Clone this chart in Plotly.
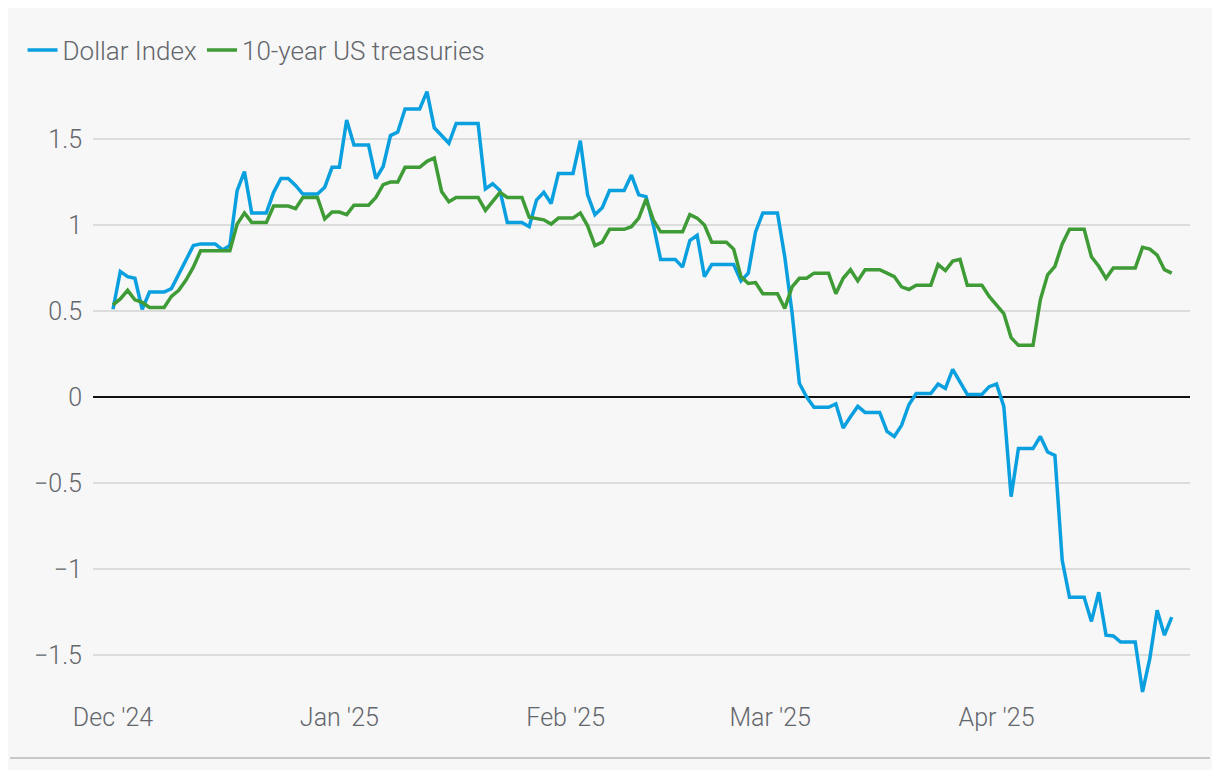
import pandas as pd
import plotly.graph_objects as go

start_date = "2024-12-01"

dollar_index = [
    0.51, 0.73, 0.70, 0.69, 0.51, 0.61, 0.61, 0.61, 0.63, 0.71,
    0.80, 0.88, 0.89, 0.89, 0.89, 0.855, 0.88, 1.20, 1.31, 1.07,
    1.07, 1.07, 1.19, 1.27, 1.27, 1.23, 1.18, 1.18, 1.18, 1.22,
    1.335, 1.335, 1.61, 1.465, 1.465, 1.465, 1.27, 1.34, 1.52, 1.54,
    1.675, 1.675, 1.675, 1.775, 1.565, 1.52, 1.475, 1.59, 1.59, 1.59,
    1.59, 1.21, 1.24, 1.20, 1.015, 1.015, 1.015, 0.99, 1.145, 1.19,
    1.125, 1.30, 1.30, 1.30, 1.49, 1.175, 1.06, 1.10, 1.20, 1.20,
    1.20, 1.29, 1.175, 1.165, 1.00, 0.80, 0.80, 0.80, 0.755, 0.91,
    0.94, 0.70, 0.77, 0.77, 0.77, 0.77, 0.675, 0.72, 0.96, 1.07,
    1.07, 1.07, 0.815, 0.49, 0.08, 0.0, -0.06, -0.06, -0.06, -0.04,
    -0.18, -0.115, -0.055, -0.09, -0.09, -0.09, -0.20, -0.23, -0.165, -0.045,
    0.02, 0.02, 0.02, 0.075, 0.05, 0.16, 0.09, 0.015, 0.015, 0.015,
    0.06, 0.075, -0.055, -0.58, -0.30, -0.30, -0.30, -0.23, -0.32, -0.34,
    -0.95, -1.165, -1.165, -1.165, -1.305, -1.135, -1.385, -1.39, -1.425, -1.425,
    -1.425, -1.715, -1.52, -1.24, -1.385, -1.28,
]

us_treasuries_10y = [
    0.535, 0.57, 0.62, 0.565, 0.55, 0.52, 0.52, 0.52, 0.585, 0.62,
    0.68, 0.755, 0.85, 0.85, 0.85, 0.85, 0.85, 1.005, 1.07, 1.015,
    1.015, 1.015, 1.11, 1.11, 1.11, 1.095, 1.16, 1.16, 1.16, 1.035,
    1.075, 1.075, 1.06, 1.115, 1.115, 1.115, 1.16, 1.235, 1.25, 1.25,
    1.335, 1.335, 1.335, 1.37, 1.39, 1.195, 1.135, 1.16, 1.16, 1.16,
    1.16, 1.085, 1.135, 1.19, 1.16, 1.16, 1.16, 1.045, 1.035, 1.03,
    1.005, 1.04, 1.04, 1.04, 1.07, 0.995, 0.88, 0.90, 0.975, 0.975,
    0.975, 0.99, 1.04, 1.15, 1.03, 0.96, 0.96, 0.96, 0.96, 1.06,
    1.04, 1.00, 0.90, 0.90, 0.90, 0.86, 0.70, 0.66, 0.665, 0.60,
    0.60, 0.60, 0.515, 0.64, 0.69, 0.69, 0.72, 0.72, 0.72, 0.60,
    0.69, 0.74, 0.675, 0.74, 0.74, 0.74, 0.72, 0.70, 0.64, 0.625,
    0.65, 0.65, 0.65, 0.77, 0.735, 0.79, 0.80, 0.65, 0.65, 0.65,
    0.585, 0.535, 0.485, 0.345, 0.30, 0.30, 0.30, 0.565, 0.71, 0.76,
    0.89, 0.975, 0.975, 0.975, 0.815, 0.76, 0.69, 0.75, 0.75, 0.75,
    0.75, 0.87, 0.86, 0.825, 0.74, 0.72,
]

tick_dates = ["2024-12-01", "2025-01-01", "2025-02-01", "2025-03-01", "2025-04-01"]
tick_labels = ["Dec '24", "Jan '25", "Feb '25", "Mar '25", "Apr '25"]
y_ticks = [-1.5, -1, -0.5, 0, 0.5, 1, 1.5]
y_tick_labels = ["\u22121.5", "\u22121", "\u22120.5", "0", "0.5", "1", "1.5"]

dates = pd.date_range(start_date, periods=len(dollar_index), freq="D")

FONT = "Roboto"
TEXT = "#63666b"
BLUE = "#0aa0e0"
GREEN = "#3e9b35"
BG = "#f7f7f7"

W, H = 1212, 762
L, R, T, B = 85, 30, 72, 70
PW, PH = W - L - R, H - T - B

fig = go.Figure()
fig.add_trace(go.Scatter(x=dates, y=dollar_index, mode="lines", name="Dollar Index",
                         line=dict(color=BLUE, width=3.5)))
fig.add_trace(go.Scatter(x=dates, y=us_treasuries_10y, mode="lines", name="10-year US treasuries",
                         line=dict(color=GREEN, width=3.5)))

x0 = pd.Timestamp(start_date) - pd.Timedelta(days=2.74)
x1 = pd.Timestamp(start_date) + pd.Timedelta(days=147.5)

tick_font = dict(family=FONT, size=25, color=TEXT, weight=300)

fig.update_layout(
    width=W, height=H,
    paper_bgcolor=BG, plot_bgcolor=BG,
    margin=dict(l=L, r=R, t=T, b=B, autoexpand=False),
    font=dict(family=FONT, size=25, color=TEXT, weight=300),
    showlegend=True,
    legend=dict(orientation="h", xref="container", yref="container",
                x=0.012, y=1 - 42 / H, xanchor="left", yanchor="middle",
                font=dict(family=FONT, size=26, color=TEXT, weight=300),
                itemwidth=30, tracegroupgap=0, bgcolor="rgba(0,0,0,0)"),
    xaxis=dict(type="date", range=[x0, x1], tickvals=tick_dates, ticktext=tick_labels,
               showgrid=False, zeroline=False, showline=False, ticks="",
               automargin=False, tickfont=tick_font),
    yaxis=dict(range=[-1.762, 1.843], tickvals=y_ticks, ticktext=y_tick_labels,
               showgrid=True, gridcolor="#dcdcdc", gridwidth=2,
               zeroline=True, zerolinecolor="#111111", zerolinewidth=2,
               showline=False, ticks="", ticklabelstandoff=10,
               automargin=False, tickfont=tick_font),
    shapes=[dict(type="line", xref="paper", yref="paper",
                 x0=(10 - 93) / PW, x1=(1210 - 93) / PW,
                 y0=-58 / PH, y1=-58 / PH,
                 line=dict(color="#c8c8c8", width=2))],
)

fig.write_html("out.html")
